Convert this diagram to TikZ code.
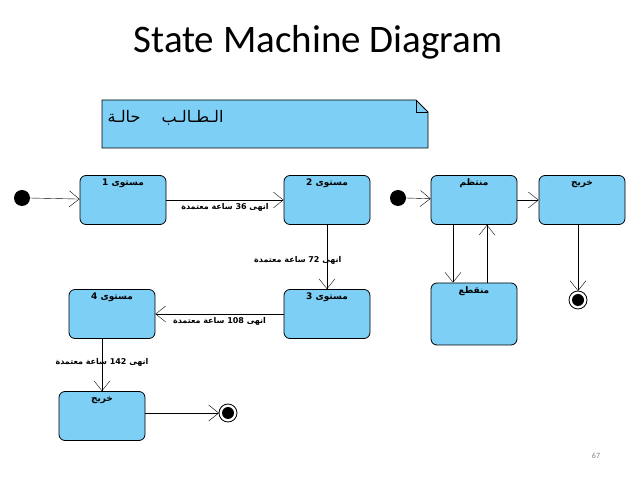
\documentclass[tikz,border=0pt]{standalone}
\usepackage{fontspec}
\usepackage{tikz}
\usetikzlibrary{arrows.meta,positioning}
\setmainfont{Carlito}
\newfontfamily\ar[Script=Arabic]{DejaVu Sans}
\definecolor{stfill}{RGB}{125,207,245}

\begin{document}
\begin{tikzpicture}[x=1pt,y=-1pt,
  state/.style={draw,thick,fill=stfill,rounded corners=6pt,minimum width=86pt,minimum height=49pt},
  trans/.style={-{Straight Barb[length=10pt,width=16pt]}},
  lbl/.style={font=\ar\bfseries\fontsize{8}{9}\selectfont},
  slbl/.style={font=\ar\bfseries\fontsize{9}{10}\selectfont}]

  \useasboundingbox (0,0) rectangle (638,478);

  % title
  \node (title) at (318,42) {\fontsize{39}{44}\selectfont State Machine Diagram};

% Draw the note
  \filldraw[fill=stfill,thick] (102,100) -- (416,100) -- (428,112) -- (428,148) -- (102,148) -- cycle;
  \draw[thick] (416,100) -- (416,112) -- (428,112);
  \node[anchor=west,font=\ar\fontsize{16}{18}\selectfont] (note) at (104,118) {حالـة \quad الـطـالـب};

% first machine
  \fill (22,198) circle (8pt);
  \coordinate (init1) at (30,198);
  \node[state] (s1) at (123,200) {};
  \node[slbl,anchor=north] at (s1.north) {\strut 1 مستوى};
  \node[state] (s2) at (327,200) {};
  \node[slbl,anchor=north] at (s2.north) {\strut 2 مستوى};
  \node[state] (s3) at (327,314) {};
  \node[slbl,anchor=north] at (s3.north) {\strut 3 مستوى};
  \node[state] (s4) at (112,314) {};
  \node[slbl,anchor=north] at (s4.north) {\strut 4 مستوى};
  \node[state] (g1) at (102,416) {};
  \node[slbl,anchor=north] at (g1.north) {\strut خريج};
  \draw[thick] (228,413) circle (9pt);
  \fill (228,413) circle (6pt);
  \coordinate (fin1) at (219,413);

  \draw[trans] (init1) -- (s1);
  \draw[trans] (s1) -- node[lbl,below] {معتمدة ساعة 36 انهى} (s2);
  \draw[trans] (s2) -- node[lbl,left=-18pt,pos=0.55,fill=white,fill opacity=0,text opacity=1] {معتمدة ساعة 72 انهى} (s3);
  \draw[trans] (s3) -- node[lbl,below] {معتمدة ساعة 108 انهى} (s4);
  \draw[trans] ([xshift=-10pt]s4.south) -- node[lbl,pos=0.45] {معتمدة ساعة 142 انهى} ([xshift=0pt]g1.north);
  \draw[trans] (g1.east |- fin1) -- (fin1);

% second machine
  \fill (398,198) circle (8pt);
  \coordinate (init2) at (406,198);
  \node[state] (reg) at (474,200) {};
  \node[slbl,anchor=north] at (reg.north) {\strut منتظم};
  \node[state] (g2) at (582,200) {};
  \node[slbl,anchor=north] at (g2.north) {\strut خريج};
  \node[state,minimum height=62pt] (int) at (474,314) {};
  \node[slbl,anchor=north] at (int.north) {\strut منقطع};
  \draw[thick] (578,300) circle (9pt);
  \fill (578,300) circle (6pt);
  \coordinate (fin2) at (578,291);

  \draw[trans] (init2) -- (reg);
  \draw[trans] (reg) -- (g2);
  \draw[trans] ([xshift=-21pt]reg.south) -- ([xshift=-21pt]int.north);
  \draw[trans] ([xshift=13pt]int.north) -- ([xshift=13pt]reg.south);
  \draw[trans] (g2.south -| fin2) -- (fin2);

  \node[text=gray,font=\fontsize{8}{9}\selectfont] (page) at (596,456) {67};
\end{tikzpicture}
\end{document}
